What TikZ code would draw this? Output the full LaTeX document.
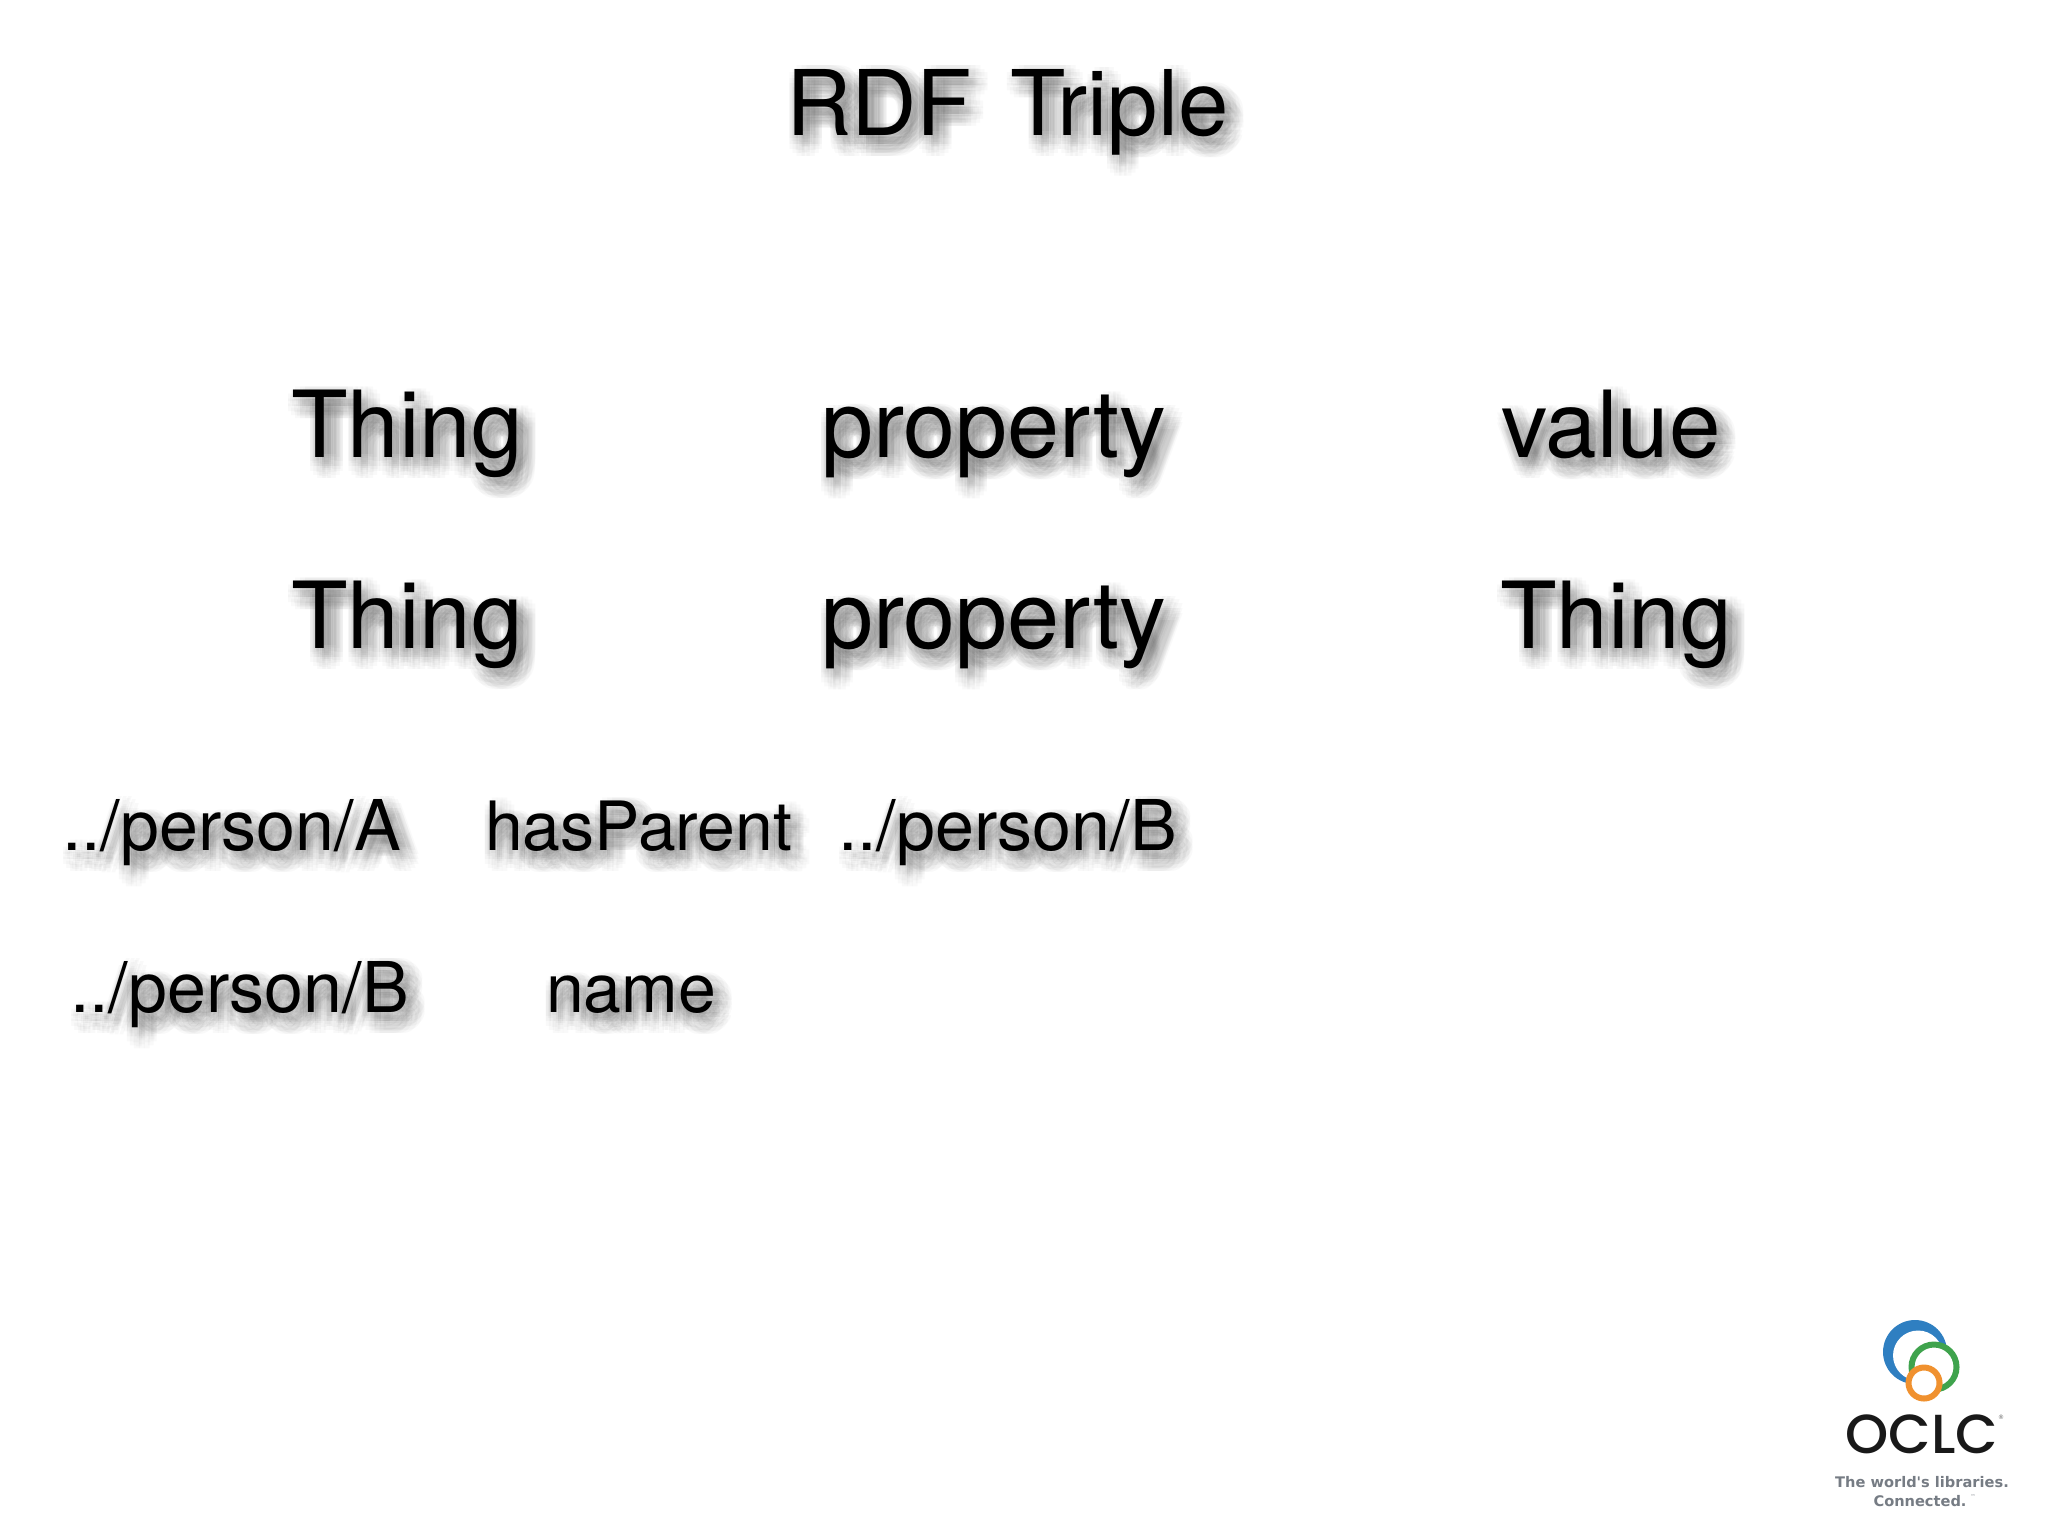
\documentclass[tikz,border=0pt]{standalone}
\usepackage{fontspec}
\setmainfont{TeX Gyre Heros}
\newfontfamily\logofont{Poppins}[FontFace={sb}{n}{Font=Poppins Medium}]
\newfontfamily\tagfont{DejaVu Sans}
\tikzset{
  x=0.5pt,y=-0.5pt,
  titlefont/.style={font=\fontsize{45.3pt}{50pt}\selectfont},
  bigfont/.style={font=\fontsize{46.3pt}{50pt}\selectfont},
  propfont/.style={font=\fontsize{46.8pt}{50pt}\selectfont},
  smallfont/.style={font=\fontsize{34pt}{38pt}\selectfont},
  pathfont/.style={font=\fontsize{35pt}{38pt}\selectfont},
  lbl/.style={anchor=base west,inner sep=0pt,outer sep=0pt,text=black},
  shadowcopy/.style={anchor=base west,inner sep=0pt,outer sep=0pt,text=black,text opacity=0.022},
  tagline/.style={anchor=base,inner sep=0pt,text=tagcol,font=\tagfont\bfseries\fontsize{7.3pt}{8pt}\selectfont},
}
\definecolor{tagcol}{HTML}{767C84}
\definecolor{oclcblue}{HTML}{2F7FC1}
\definecolor{oclcgreen}{HTML}{3FA34D}
\definecolor{oclcorange}{HTML}{F0912F}
\newcommand{\shadowed}[5]{%
  \foreach \dx/\dy in {0/0,4/0,-4/0,0/4,0/-4,8/0,-8/0,0/8,0/-8,6/6,-6/6,6/-6,-6/-6,
     12/0,-12/0,0/12,0/-12,9/9,-9/9,9/-9,-9/-9,12/5,-12/5,5/12,5/-12,-5/12,-5/-12,12/-5,-12/-5,
     2/2,-2/2,2/-2,-2/-2,10/3,-10/-3,3/-10,-3/10}{
    \node[shadowcopy,#4] at ({#2+7+\dx},{#3+9+\dy}) {#5};
  }
  \node[lbl,#4] (#1) at (#2,#3) {#5};
}
\begin{document}
\begin{tikzpicture}
\useasboundingbox (0,0) rectangle (2048,1536);
\fill[white] (0,0) rectangle (2048,1536);
\shadowed{title}{786}{135}{titlefont}{RDF\hspace{0.42em}Triple}
\shadowed{s1}{291}{457}{bigfont}{Thing}
\shadowed{p1}{821}{457}{propfont}{property}
\shadowed{o1}{1501}{457}{bigfont}{value}
\shadowed{s2}{291}{648}{bigfont}{Thing}
\shadowed{p2}{821}{648}{propfont}{property}
\shadowed{o2}{1500}{648}{bigfont}{Thing}
\shadowed{s3}{62}{850}{pathfont}{../person/A}
\shadowed{p3}{485}{850}{smallfont}{hasParent}
\shadowed{o3}{838}{850}{pathfont}{../person/B}
\shadowed{s4}{70}{1012}{pathfont}{../person/B}
\shadowed{p4}{546}{1012}{smallfont}{name}
% logo
\fill[oclcblue] (1915,1352) circle (32);
\fill[white] (1918,1355.5) circle (25);
\draw[oclcgreen,line width=3pt,fill=white] (1934,1367) circle (22.5);
\draw[oclcorange,line width=3pt,fill=white] (1924,1383) circle (15.5);
\node[anchor=base,inner sep=0pt,text=black!90,font=\logofont\fontseries{sb}\fontsize{27.5pt}{30pt}\selectfont] (oclc) at (1922,1453) {OCLC};
\node[anchor=center,inner sep=0pt,text=black!60,font=\tagfont\fontsize{3pt}{3pt}\selectfont] (reg) at (2001,1417) {®};
\node[tagline] (tag1) at (1922,1487) {The world's libraries.};
\node[tagline] (tag2) at (1920,1506) {Connected.};
\node[anchor=center,inner sep=0pt,text=tagcol,font=\tagfont\fontsize{2.5pt}{3pt}\selectfont] (tm) at (1973,1497) {™};
\end{tikzpicture}
\end{document}
